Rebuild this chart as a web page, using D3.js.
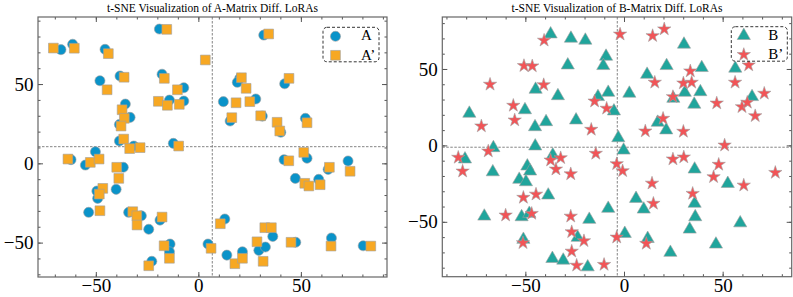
<!DOCTYPE html>
<html>
<head>
<meta charset="utf-8">
<script src="https://cdn.jsdelivr.net/npm/d3@7"></script>
<style>
  body { margin: 0; background: #fff; }
  text { font-family: "Liberation Serif", "DejaVu Serif", serif; }
</style>
</head>
<body>
<div id="chart"></div>
<script>
// points, [x, y]
var aPoints = [
  [-19.0, 84.7], [-61.3, 75.1], [-67.0, 71.7], [-45.5, 71.9], [-48.0, 52.1], [-38.2, 55.1],
  [-17.7, 56.2], [-7.1, 47.7], [-14.1, 39.9], [-7.1, 39.3], [-35.6, 37.4], [-33.3, 29.0],
  [-38.5, 24.5], [-38.5, 14.1], [-31.5, 10.9], [-12.2, 12.6], [-50.2, 7.3], [-62.1, 2.3],
  [-55.1, -1.1], [-36.6, -2.5], [-40.1, -16.4], [-49.1, -22.1], [-49.5, -17.5], [-53.5, -30.9],
  [-34.0, -30.9], [-27.8, -33.1], [-24.2, -41.6], [-18.7, -35.8], [-13.8, -50.9], [-14.1, -55.8],
  [-22.7, -61.8], [4.7, -50.9], [31.9, 80.9], [20.2, 53.6], [19.0, 51.1], [42.1, 50.2],
  [12.2, 38.9], [28.0, 40.6], [15.5, 26.7], [31.2, 29.8], [40.2, 19.6], [52.2, 28.4],
  [53.0, 3.2], [41.8, 2.3], [47.3, -9.5], [58.7, -10.1], [63.3, -3.8], [73.0, 1.5],
  [12.9, -35.1], [13.9, -57.9], [21.5, -55.8], [29.5, -54.9], [32.7, -52.8], [36.3, -46.1],
  [47.5, -49.8], [64.9, -47.1], [80.4, -52.0]
];
var aPrimePoints = [
  [-15.4, 84.5], [-60.5, 72.6], [-70.7, 72.7], [-43.9, 69.2], [3.4, 65.2], [-44.5, 46.4],
  [-36.2, 54.3], [-16.6, 53.6], [-10.2, 46.4], [-19.5, 39.1], [-15.1, 36.6], [-9.3, 37.2],
  [-37.2, 33.8], [-36.1, 28.4], [-37.7, 23.5], [-36.4, 15.3], [-28.4, 9.9], [-33.5, 9.3],
  [-9.6, 10.9], [-63.6, 2.7], [-52.7, 0.6], [-48.4, 2.7], [-39.8, -2.5], [-38.8, -9.5],
  [-46.6, -15.8], [-48.3, -19.4], [-48.0, -29.9], [-32.0, -30.5], [-30.0, -33.1], [-29.9, -38.9],
  [-17.7, -33.9], [-16.7, -52.0], [-14.1, -59.9], [-24.2, -64.6], [6.2, -53.6], [34.3, 81.6],
  [21.0, 54.0], [23.3, 47.3], [44.2, 53.6], [18.4, 38.2], [25.1, 38.9], [16.3, 28.8],
  [30.4, 30.0], [38.4, 25.9], [39.7, 20.4], [53.0, 25.6], [51.4, 6.9], [44.1, 1.6],
  [51.9, -12.6], [53.9, -14.3], [59.4, -13.5], [63.9, -2.5], [74.0, -5.0], [10.7, -38.1],
  [17.8, -63.3], [21.5, -59.9], [28.6, -49.5], [31.6, -61.8], [32.4, -40.6], [35.6, -40.6],
  [45.2, -49.8], [64.7, -52.2], [84.1, -52.2]
];
var bPoints = [
  [-37.2, 72.8], [-26.9, 70.0], [-19.6, 68.7], [-9.1, 58.2], [-28.5, 52.5], [-10.5, 52.1],
  [-44.8, 36.6], [-33.5, 32.4], [-13.2, 31.8], [-8.0, 34.6], [-5.1, 22.4], [-78.4, 20.9],
  [-50.2, 23.2], [-45.1, 12.1], [-39.5, 15.4], [-24.3, 16.5], [-2.9, 4.9], [-66.2, -1.6],
  [-45.0, -0.5], [30.4, 66.1], [21.6, 52.1], [11.7, 46.4], [39.4, 50.8], [56.4, 50.4],
  [2.7, 34.0], [25.0, 30.7], [30.8, 34.6], [38.7, 35.0], [35.6, 26.8], [64.9, 31.8],
  [17.1, 15.0], [21.4, 10.0], [-0.2, -3.2], [-80.6, -9.0], [-66.5, -17.4], [-36.1, -6.4],
  [-49.0, -13.6], [-47.6, -16.9], [-53.1, -22.3], [-49.7, -23.9], [-38.4, -32.6], [-70.8, -46.4],
  [-51.9, -46.8], [-48.0, -44.6], [-17.6, -48.5], [-8.0, -41.3], [-51.0, -61.6], [-23.5, -60.3],
  [-36.3, -74.1], [-30.8, -75.2], [-18.4, -79.6], [35.8, -15.6], [52.6, -25.0], [6.1, -34.8],
  [10.0, -41.8], [35.8, -38.0], [36.1, -46.8], [58.9, -50.8], [33.3, -54.9], [0.4, -57.7],
  [12.0, -61.0], [46.6, -64.7], [23.5, -70.1]
];
var bPrimePoints = [
  [-40.5, 68.7], [-50.7, 52.1], [-46.5, 51.9], [-67.9, 39.9], [-40.7, 39.6], [-56.1, 26.1],
  [-55.4, 16.5], [-72.3, 12.6], [-14.9, 28.9], [-8.8, 24.2], [-16.6, 10.4], [-2.0, 72.7],
  [14.5, 71.7], [20.4, 76.1], [33.6, 48.6], [15.6, 41.2], [30.1, 40.7], [34.3, 41.2],
  [24.8, 31.8], [19.8, 17.6], [10.8, 9.3], [30.1, 9.1], [47.0, 27.6], [56.3, 41.2],
  [63.2, 52.5], [59.8, 25.2], [62.5, 28.1], [71.1, 34.0], [66.5, 19.3], [51.0, 0.1],
  [-84.0, -7.9], [-81.8, -16.9], [-68.8, -3.8], [-37.2, -9.7], [-32.1, -8.2], [-34.5, -15.6],
  [-27.0, -18.7], [-14.3, -5.3], [-51.0, -34.1], [-44.6, -32.0], [-60.0, -45.7], [-46.8, -44.6],
  [-27.0, -46.4], [-26.5, -56.6], [-20.3, -62.5], [-26.5, -69.3], [-51.2, -63.8], [-24.0, -78.5],
  [-10.1, -78.0], [-3.7, -12.1], [-3.7, -60.1], [-0.7, -16.7], [24.8, -9.0], [30.3, -7.7],
  [48.0, -12.5], [45.4, -20.6], [76.7, -17.8], [14.2, -24.8], [60.7, -26.1], [34.8, -31.5],
  [14.9, -38.0], [11.3, -64.2]
];
// centre lines (dashed)
var aCenter = [6.8, 10.5];
var bCenter = [-3.4, -1.2];

var xTicks = [-50, 0, 50];
var yTicks = [-50, 0, 50];
var minorTicks = d3.range(-90, 100, 10);

var svg = d3.select("#chart").append("svg")
    .attr("width", 793)
    .attr("height", 297);

function drawPanel(p) {
  var g = svg.append("g").attr("transform", "translate(" + p.left + "," + p.top + ")");
  var x = d3.scaleLinear().domain(p.xDomain).range([0, p.width]);
  var y = d3.scaleLinear().domain(p.yDomain).range([p.height, 0]);

  // ticks on all four sides, pointing in
  var axes = [
    [d3.axisBottom(x), "translate(0," + p.height + ")", xTicks],
    [d3.axisTop(x), "translate(0,0)", xTicks],
    [d3.axisLeft(y), "translate(0,0)", yTicks],
    [d3.axisRight(y), "translate(" + p.width + ",0)", yTicks]
  ];
  axes.forEach(function(a, i) {
    var minor = (i < 2 ? x : y).domain();
    g.append("g")
      .attr("transform", a[1])
      .call(a[0].copy ? a[0] : a[0])
      .call(function(sel) {
        sel.call(a[0].tickValues(minorTicks.filter(function(v) { return v >= minor[0] && v <= minor[1]; }))
          .tickSize(-2.5).tickFormat(""));
      })
      .call(function(sel) { sel.select(".domain").remove(); sel.selectAll("line").attr("stroke", "#555"); });
    var major = g.append("g")
      .attr("transform", a[1])
      .call(a[0].tickValues(a[2]).tickSize(-5).tickFormat(i == 0 || i == 2 ? d3.format("") : ""));
    major.select(".domain").remove();
    major.selectAll("line").attr("stroke", "#555");
    major.selectAll("text").attr("font-size", 19).attr("fill", "#000")
      .attr("font-family", "Liberation Serif");
    if (i == 0) major.selectAll("text").attr("y", 15).attr("dy", 0);
    if (i == 2) major.selectAll("text").attr("x", -4.5);
  });

  // dashed centre lines
  g.append("line")
    .attr("x1", x(p.center[0])).attr("x2", x(p.center[0]))
    .attr("y1", 0).attr("y2", p.height)
    .attr("stroke", "#666").attr("stroke-width", 0.8).attr("stroke-dasharray", "2.5,1.5");
  g.append("line")
    .attr("x1", 0).attr("x2", p.width)
    .attr("y1", y(p.center[1])).attr("y2", y(p.center[1]))
    .attr("stroke", "#666").attr("stroke-width", 0.8).attr("stroke-dasharray", "2.5,1.5");

  // points
  p.series.forEach(function(s) {
    g.append("g").selectAll("path")
      .data(s.data)
      .enter().append("path")
      .attr("d", d3.symbol().type(s.symbol).size(s.size))
      .attr("transform", function(d) { return "translate(" + x(d[0]) + "," + y(d[1]) + ")"; })
      .attr("fill", s.color)
      .attr("stroke", "rgba(160,160,160,0.6)")
      .attr("stroke-width", 1);
  });

  // frame
  g.append("rect")
    .attr("width", p.width).attr("height", p.height)
    .attr("fill", "none").attr("stroke", "#666").attr("stroke-width", 1.2);

  // title
  g.append("text")
    .attr("x", p.width / 2).attr("y", -5.5)
    .attr("text-anchor", "middle")
    .attr("font-size", 11.5)
    .text(p.title);

  // legend
  var lg = g.append("g").attr("transform", "translate(" + p.legendX + "," + p.legendY + ")");
  lg.append("rect")
    .attr("width", 56).attr("height", 34.5).attr("rx", 4)
    .attr("fill", "#fff").attr("stroke", "#000").attr("stroke-width", 0.8)
    .attr("stroke-dasharray", "3,2");
  p.series.forEach(function(s, i) {
    lg.append("path")
      .attr("d", d3.symbol().type(s.symbol).size(s.size))
      .attr("transform", "translate(12.5," + (9 + i * 19) + ")")
      .attr("fill", s.color)
      .attr("stroke", "rgba(160,160,160,0.6)");
    lg.append("text")
      .attr("x", p.labelX).attr("y", 13 + i * 19.5)
      .attr("font-size", 15)
      .text(s.label);
  });
}

drawPanel({
  left: 38, top: 17, width: 349, height: 260,
  xDomain: [-78.2, 92], yDomain: [-71.7, 92.3],
  center: aCenter,
  title: "t-SNE Visualization of A-Matrix Diff. LoRAs",
  legendX: 285, legendY: 10.3, labelX: 38,
  series: [
    { data: aPoints, symbol: d3.symbolCircle, size: 80, color: "#0a93c9", label: "A" },
    { data: aPrimePoints, symbol: d3.symbolSquare, size: 95, color: "#f7a823", label: "A\u2019" }
  ]
});

drawPanel({
  left: 442.3, top: 17, width: 349.4, height: 259.7,
  xDomain: [-92.1, 85], yDomain: [-85.9, 84],
  center: bCenter,
  title: "t-SNE Visualization of B-Matrix Diff. LoRAs",
  legendX: 289, legendY: 9.7, labelX: 37,
  series: [
    { data: bPoints, symbol: d3.symbolTriangle, size: 75, color: "#20a59c", label: "B" },
    { data: bPrimePoints, symbol: d3.symbolStar, size: 55, color: "#f25457", label: "B\u2019" }
  ]
});
</script>
</body>
</html>
